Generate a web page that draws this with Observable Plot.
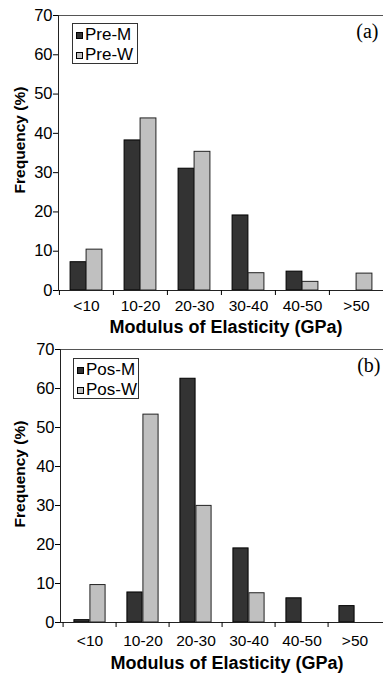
<!DOCTYPE html>
<html>
<head>
<meta charset="utf-8">
<script src="https://cdn.jsdelivr.net/npm/d3@7"></script>
<script src="https://cdn.jsdelivr.net/npm/@observablehq/plot@0.6"></script>
<style>
  body { margin: 0; background: #fff; font-family: "Liberation Sans", Arial, sans-serif; }
  .panel { position: relative; width: 383px; }
  .legend { position: absolute; border: 1px solid #333; background: #fff; box-sizing: border-box; padding: 1px 0 0 3px; }
  .legend .row { display: flex; align-items: center; height: 20px; font-size: 17px; color: #000; }
  .legend .sw { width: 5px; height: 5px; border: 1px solid #000; margin-right: 2px; }
</style>
</head>
<body>
<div id="chart"></div>
<script>
const categories = ["<10", "10-20", "20-30", "30-40", "40-50", ">50"];
const preM = [7.2, 38.2, 31.0, 19.1, 4.8, 0];
const preW = [10.4, 43.8, 35.3, 4.4, 2.2, 4.3];
const posM = [0.6, 7.7, 62.5, 19.0, 6.2, 4.2];
const posW = [9.6, 53.3, 29.9, 7.5, 0, 0];
const yTicks = [0, 10, 20, 30, 40, 50, 60, 70];
const xTitle = "Modulus of Elasticity (GPa)";
const yTitle = "Frequency (%)";

const darkFill = "#333333";
const lightFill = "#c0c0c0";

function rows(vals) {
  return categories.map((c, i) => ({cat: c, value: vals[i]})).filter(d => d.value > 0);
}

function panel(cfg) {
  const W = 383;
  const bw = (W - cfg.ml) / categories.length;
  const barW = 16;
  const wrap = document.createElement("div");
  wrap.className = "panel";
  const svg = Plot.plot({
    width: W,
    height: cfg.height,
    marginLeft: cfg.ml,
    marginRight: 0,
    marginTop: cfg.mt,
    marginBottom: cfg.mb,
    style: {fontFamily: "Liberation Sans, Arial, sans-serif", fontSize: "15px", color: "#000", background: "#fff", overflow: "visible"},
    x: {type: "band", domain: categories, padding: 0, axis: null},
    y: {domain: [0, 70], axis: null},
    marks: [
      Plot.barY(rows(cfg.m), {x: "cat", y: "value", fill: darkFill, stroke: "#000", strokeWidth: 1, insetLeft: bw / 2 - barW, insetRight: bw / 2}),
      Plot.barY(rows(cfg.w), {x: "cat", y: "value", fill: lightFill, stroke: "#222", strokeWidth: 1, insetLeft: bw / 2, insetRight: bw / 2 - barW}),
      Plot.ruleY([0], {stroke: "#222"}),
      Plot.frame({anchor: "top", stroke: "#555"}),
      Plot.frame({anchor: "left", stroke: "#222"}),
      Plot.axisY({ticks: yTicks, tickSize: 5, tickPadding: 1, tickFormat: d => String(d), label: null, fontSize: 16.5}),
      Plot.axisX({tickSize: 0, tickPadding: cfg.tp, label: null, fontSize: 15.5}),
      Plot.axisX({tickSize: 5, tickFormat: () => "", label: null, dx: -bw / 2}),
      Plot.text([xTitle], {text: d => d, frameAnchor: "bottom", textAnchor: "middle", lineAnchor: "top", dy: cfg.xtdy, dx: 5, fontWeight: "bold", fontSize: 18, letterSpacing: "0.3px"}),
      Plot.text([yTitle], {text: d => d, frameAnchor: "left", textAnchor: "middle", lineAnchor: "middle", rotate: -90, dx: 20 - cfg.ml, dy: cfg.ytdy, fontWeight: "bold", fontSize: 15.5}),
      Plot.text([cfg.tag], {text: d => d, frameAnchor: "top-right", textAnchor: "end", lineAnchor: "top", dx: cfg.tagdx, dy: cfg.tagdy, fontFamily: "Liberation Serif, Times New Roman, serif", fontSize: 20})
    ]
  });
  wrap.appendChild(svg);
  const lg = document.createElement("div");
  lg.className = "legend";
  lg.style.left = cfg.lgx + "px";
  lg.style.top = cfg.lgy + "px";
  lg.style.width = "66px";
  lg.style.height = "41px";
  [[cfg.names[0], darkFill], [cfg.names[1], lightFill]].forEach(([n, c]) => {
    const r = document.createElement("div");
    r.className = "row";
    const s = document.createElement("div");
    s.className = "sw";
    s.style.background = c;
    const t = document.createElement("span");
    t.textContent = n;
    r.appendChild(s); r.appendChild(t);
    lg.appendChild(r);
  });
  wrap.appendChild(lg);
  return wrap;
}

const root = document.getElementById("chart");
root.appendChild(panel({height: 340, ml: 58, mt: 15, mb: 50, tp: 9, xtdy: 30, ytdy: -13, tag: "(a)", tagdx: -5, tagdy: 8,
  m: preM, w: preW, names: ["Pre-M", "Pre-W"], lgx: 72, lgy: 23}));
root.appendChild(panel({height: 333, ml: 60, mt: 9, mb: 51, tp: 12, xtdy: 34, ytdy: -12, tag: "(b)", tagdx: -3, tagdy: 8,
  m: posM, w: posW, names: ["Pos-M", "Pos-W"], lgx: 73, lgy: 18}));
</script>
</body>
</html>
